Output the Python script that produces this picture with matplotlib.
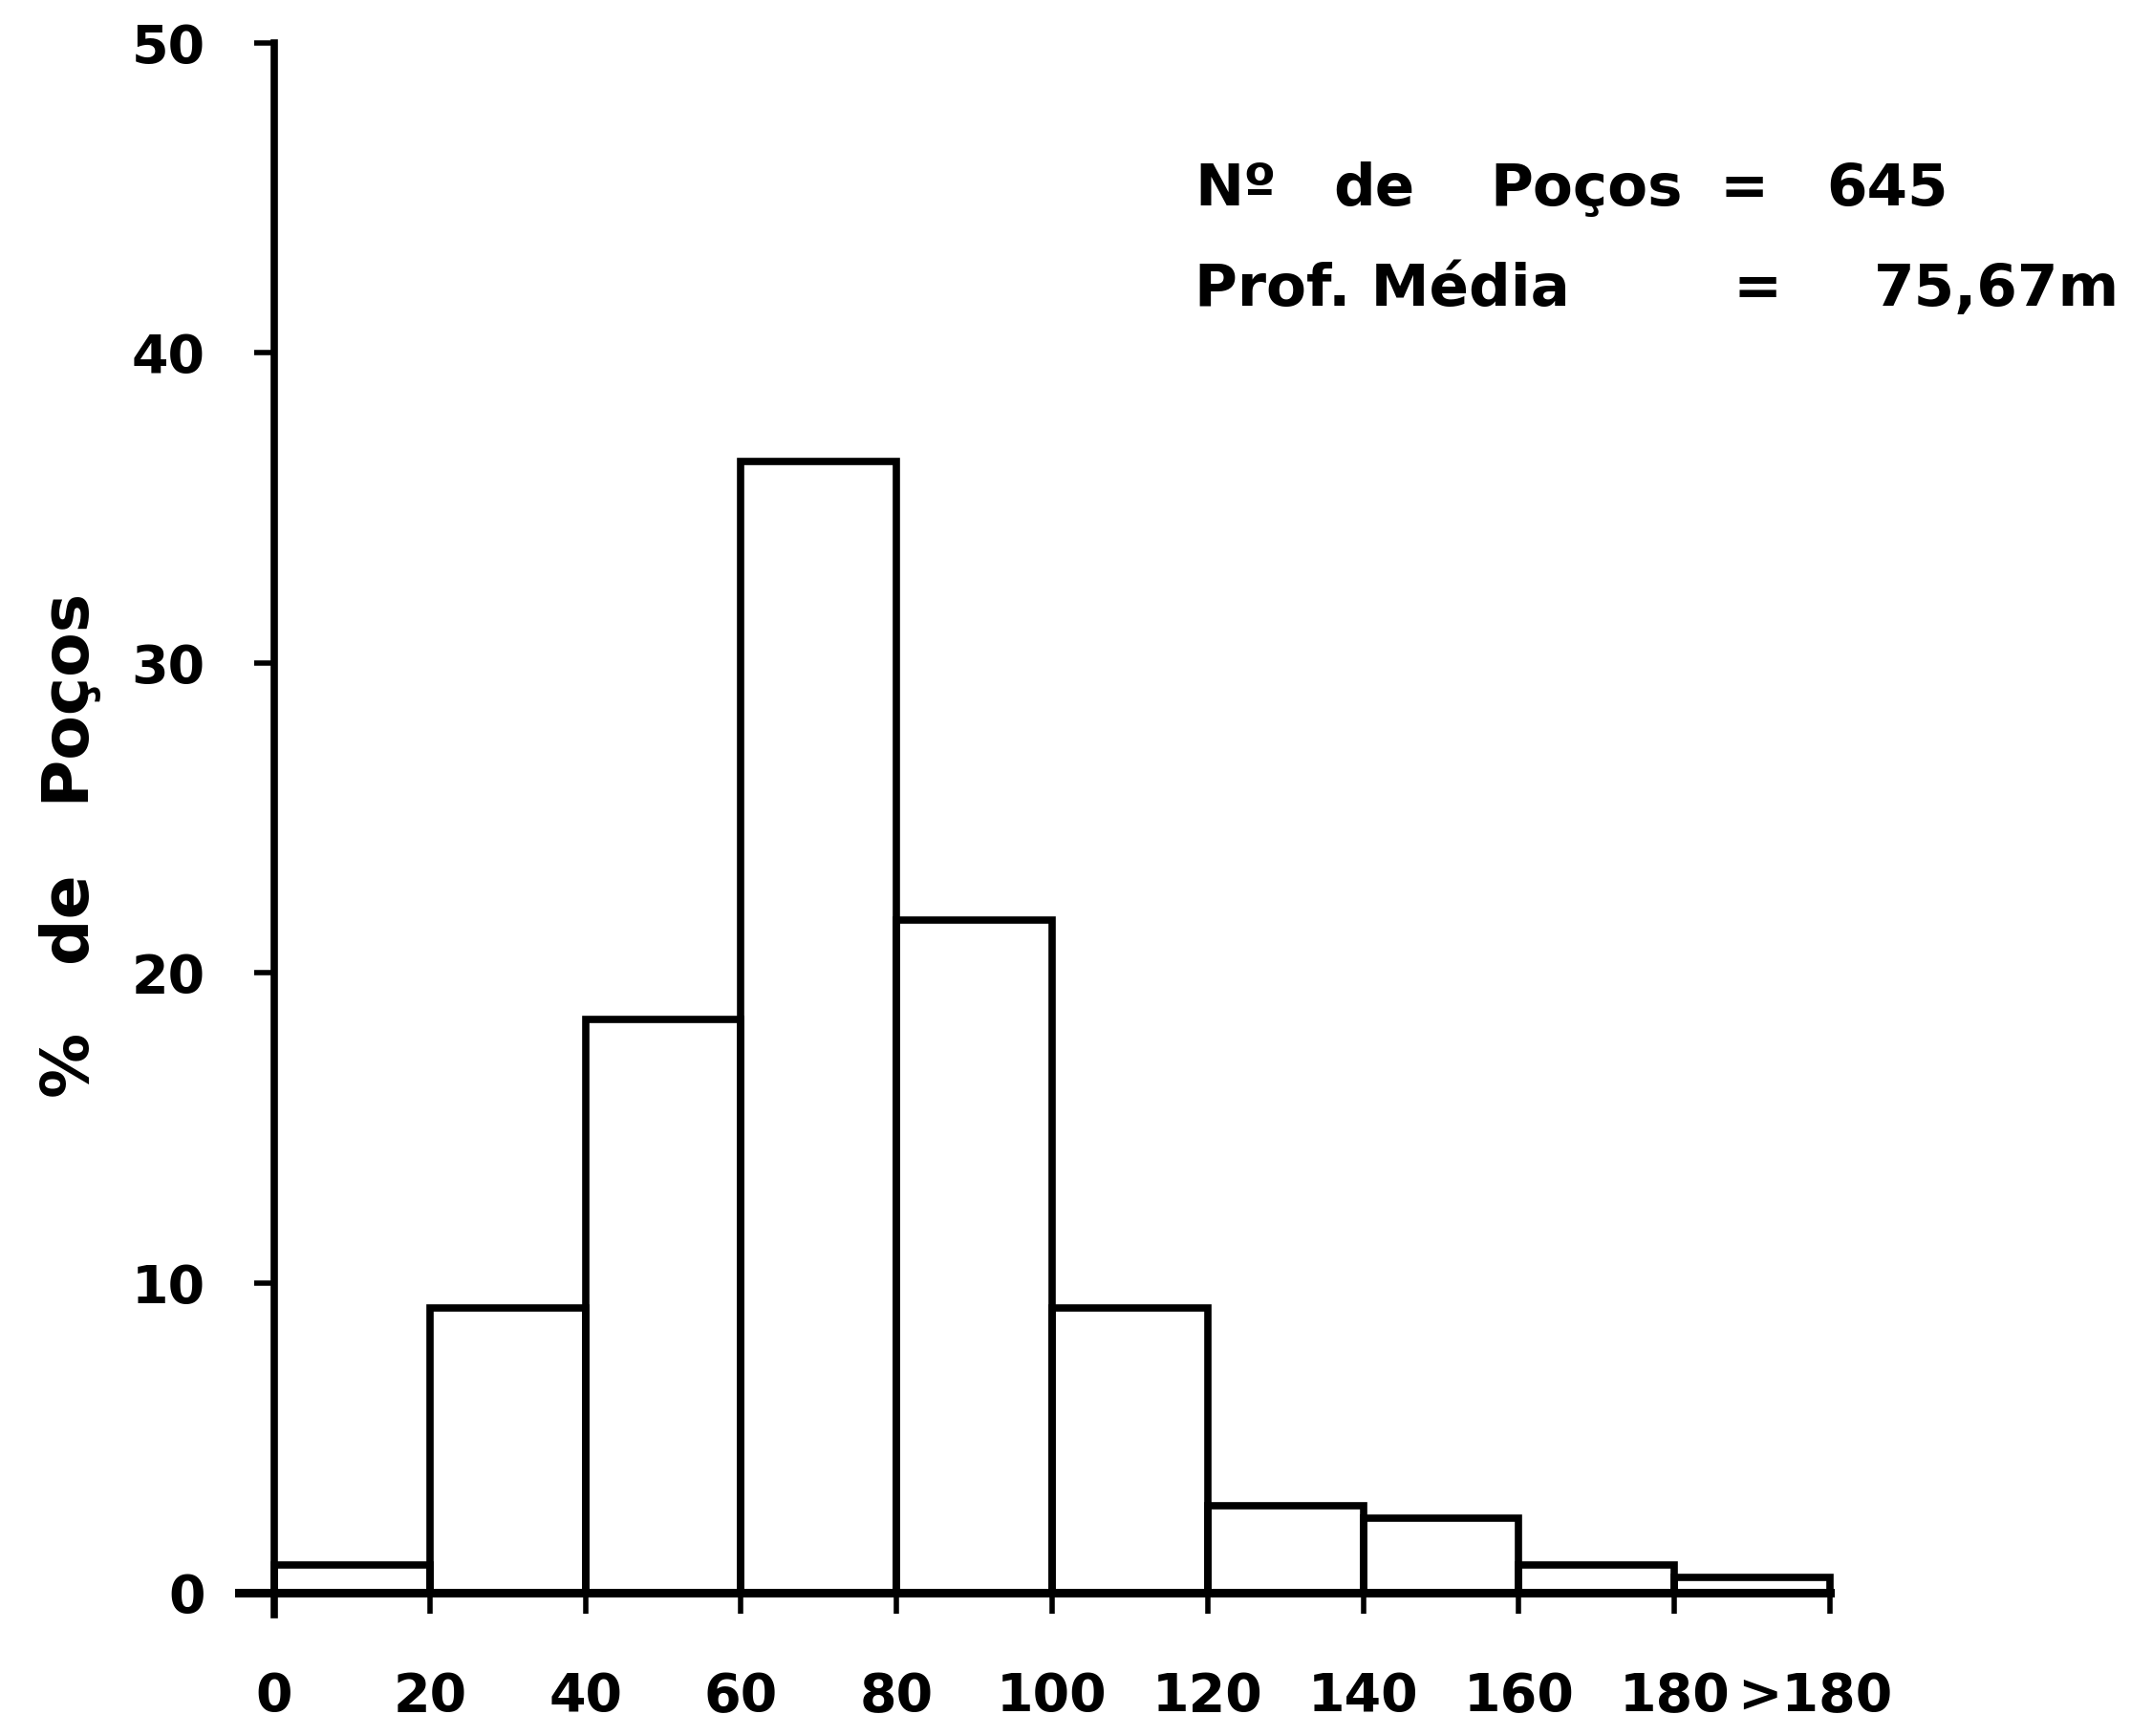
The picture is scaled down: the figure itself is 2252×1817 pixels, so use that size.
import matplotlib
matplotlib.use("Agg")
import matplotlib.pyplot as plt
import numpy as np

# classes de profundidade (m) e % de poços em cada classe
bin_left = [0, 20, 40, 60, 80, 100, 120, 140, 160, 180]
pct_pocos = [0.9, 9.2, 18.5, 36.5, 21.7, 9.2, 2.8, 2.4, 0.9, 0.5]
bin_width = 20

tick_pos = [0, 20, 40, 60, 80, 100, 120, 140, 160, 180, 200]
label_pos = [0, 20, 40, 60, 80, 100, 120, 140, 160, 180, 198]
label_txt = ["0", "20", "40", "60", "80", "100", "120", "140", "160", "180", ">180"]
y_ticks = [0, 10, 20, 30, 40, 50]

n_pocos = 645
prof_media = "75,67m"

plt.rcParams["font.family"] = ["DejaVu Sans"]
plt.rcParams["font.weight"] = "bold"

fig = plt.figure(figsize=(22.52, 18.17), dpi=100)
ax = fig.add_axes([0.1112, 0.0699, 0.7428, 0.9089])

lw = 5.5
ax.bar(bin_left, pct_pocos, width=bin_width, align="edge",
       fill=False, edgecolor="black", linewidth=lw)

ax.set_xlim(-4.5, 201)
ax.set_ylim(-0.7, 50.2)

for s in ["top", "right"]:
    ax.spines[s].set_visible(False)
ax.spines["left"].set_position(("data", 0))
ax.spines["bottom"].set_position(("data", 0))
ax.spines["left"].set_bounds(-0.7, 50)
ax.spines["bottom"].set_bounds(-4.5, 200)
ax.spines["left"].set_linewidth(lw)
ax.spines["bottom"].set_linewidth(lw + 1)

# marcas do eixo x como minor ticks, rotulos nos major (sem marca)
ax.xaxis.remove_overlapping_locs = False
ax.set_xticks(tick_pos, minor=True)
ax.set_xticks(label_pos)
ax.set_xticklabels(label_txt)
ax.tick_params(axis="x", which="minor", direction="out", length=16, width=4)
ax.tick_params(axis="x", which="major", length=0, pad=59, labelsize=40)

ax.set_yticks(y_ticks)
ax.tick_params(axis="y", direction="out", length=15, width=4, pad=37, labelsize=40)

fig.text(0.033, 0.513, "%   de   Poços", rotation=90, fontsize=49,
         fontweight="bold", ha="center", va="center")

# quadro com numero de poços e profundidade media
y1, y2 = 0.891, 0.833
fs = 44
fig.text(1250 / 2252, y1, "Nº", fontsize=fs, fontweight="bold", va="center")
fig.text(1395 / 2252, y1, "de", fontsize=fs, fontweight="bold", va="center")
fig.text(1559 / 2252, y1, "Poços", fontsize=fs, fontweight="bold", va="center")
fig.text(1825 / 2252, y1, "=", fontsize=fs, fontweight="bold", va="center", ha="center")
fig.text(1911 / 2252, y1, str(n_pocos), fontsize=fs, fontweight="bold", va="center")
fig.text(1250 / 2252, y2, "Prof. Média", fontsize=fs, fontweight="bold", va="center")
fig.text(1839 / 2252, y2, "=", fontsize=fs, fontweight="bold", va="center", ha="center")
fig.text(1961 / 2252, y2, prof_media, fontsize=fs, fontweight="bold", va="center")

fig.savefig("out.png", dpi=100, facecolor="white")
